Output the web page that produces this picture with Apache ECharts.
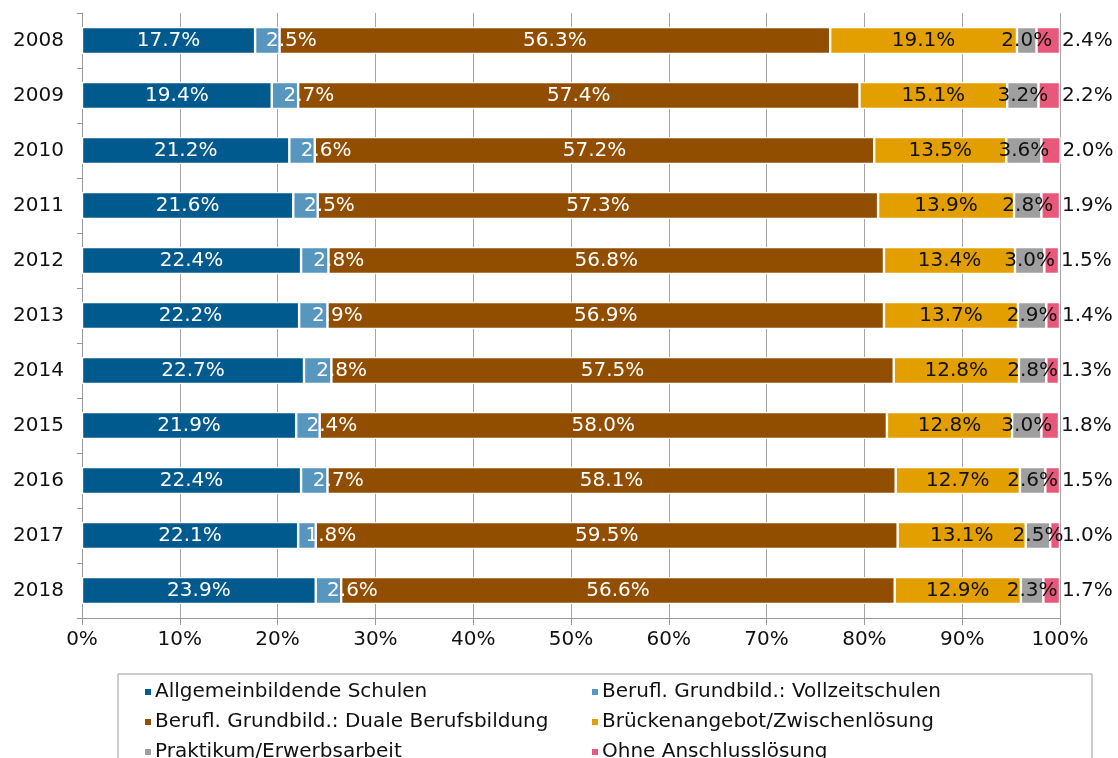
<!DOCTYPE html>
<html>
<head>
<meta charset="utf-8">
<title>Anschlusslösungen 2008-2018</title>
<script src="https://cdn.jsdelivr.net/npm/echarts@6/dist/echarts.min.js"></script>
<style>
html,body{margin:0;padding:0;background:#fff;}
#chart{width:1118px;height:758px;}
</style>
</head>
<body>
<div id="chart"></div>
<script>
'use strict';

// Jahre (oben nach unten)
var years=['2008','2009','2010','2011','2012','2013','2014','2015','2016','2017','2018'];

// Anteile in %
var allgemeinbildende=[17.7,19.4,21.2,21.6,22.4,22.2,22.7,21.9,22.4,22.1,23.9];
var vollzeitschulen=[2.5,2.7,2.6,2.5,2.8,2.9,2.8,2.4,2.7,1.8,2.6];
var dualeBerufsbildung=[56.3,57.4,57.2,57.3,56.8,56.9,57.5,58.0,58.1,59.5,56.6];
var brueckenangebot=[19.1,15.1,13.5,13.9,13.4,13.7,12.8,12.8,12.7,13.1,12.9];
var praktikum=[2.0,3.2,3.6,2.8,3.0,2.9,2.8,3.0,2.6,2.5,2.3];
var ohneAnschluss=[2.4,2.2,2.0,1.9,1.5,1.4,1.3,1.8,1.5,1.0,1.7];

var seriesNames=['Allgemeinbildende Schulen','Berufl. Grundbild.: Vollzeitschulen','Berufl. Grundbild.: Duale Berufsbildung','Brückenangebot/Zwischenlösung','Praktikum/Erwerbsarbeit','Ohne Anschlusslösung'];
var seriesData=[allgemeinbildende,vollzeitschulen,dualeBerufsbildung,brueckenangebot,praktikum,ohneAnschluss];
var colors=['#005a8e','#5796be','#924e00','#e39f00','#9f9f9f','#e8587a'];

var FONT='DejaVu Sans';
var FONT_SIZE=20;

// Labelposition je Serie (wie im Original)
var labelCfg=[
    {position:'inside',color:'#fff'},
    {position:'inside',color:'#fff',offset:[24,0]},
    {position:'inside',color:'#fff'},
    {position:'inside',color:'#111'},
    {position:'inside',color:'#111'},
    {position:'right',color:'#111',distance:2}
];

function makeLabel(cfg){
    return {
        show:true,
        position:cfg.position,
        offset:cfg.offset||[0,0],
        distance:cfg.distance||5,
        color:cfg.color,
        fontFamily:FONT,
        fontSize:FONT_SIZE,
        formatter:function(p){return p.value.toFixed(1)+'%';}
    };
}

var chart=echarts.init(document.getElementById('chart'));

var series=seriesData.map(function(data,i){
    return {
        name:seriesNames[i],
        type:'bar',
        stack:'total',
        barWidth:27,
        data:data,
        itemStyle:{color:colors[i],borderColor:'#fff',borderWidth:1.2},
        label:makeLabel(labelCfg[i])
    };
});

// Legende: 2 Spalten x 3 Zeilen, je Eintrag eine Legende
var legends=seriesNames.map(function(name,i){
    return {
        left:i%2===0 ? 138 : 585,
        top:677+Math.floor(i/2)*30,
        itemWidth:8,itemHeight:8,icon:'rect',
        textStyle:{fontSize:FONT_SIZE,fontFamily:FONT,color:'#111',padding:[0,0,0,-2]},
        data:[name]
    };
});

chart.setOption({
    animation:false,
    textStyle:{fontFamily:FONT},
    grid:{left:82,right:58,top:13,height:605},
    xAxis:{
        type:'value',
        min:0,max:100,interval:10,
        axisLine:{show:true,lineStyle:{color:'#999'}},
        axisTick:{show:true,length:7,lineStyle:{color:'#999'}},
        axisLabel:{formatter:'{value}%',color:'#111',fontSize:FONT_SIZE,fontFamily:FONT,margin:12},
        splitLine:{show:true,lineStyle:{color:'#a6a6a6',width:1}}
    },
    yAxis:{
        type:'category',
        inverse:true,
        data:years,
        axisLine:{show:true,lineStyle:{color:'#999'}},
        axisTick:{show:true,length:5,lineStyle:{color:'#999'}},
        axisLabel:{color:'#111',fontSize:FONT_SIZE,fontFamily:FONT,margin:18}
    },
    legend:legends,
    graphic:[{
        type:'rect',
        shape:{x:118,y:674,width:974,height:100},
        style:{fill:'none',stroke:'#999',lineWidth:1},
        silent:true
    }],
    series:series
});
</script>
</body>
</html>
